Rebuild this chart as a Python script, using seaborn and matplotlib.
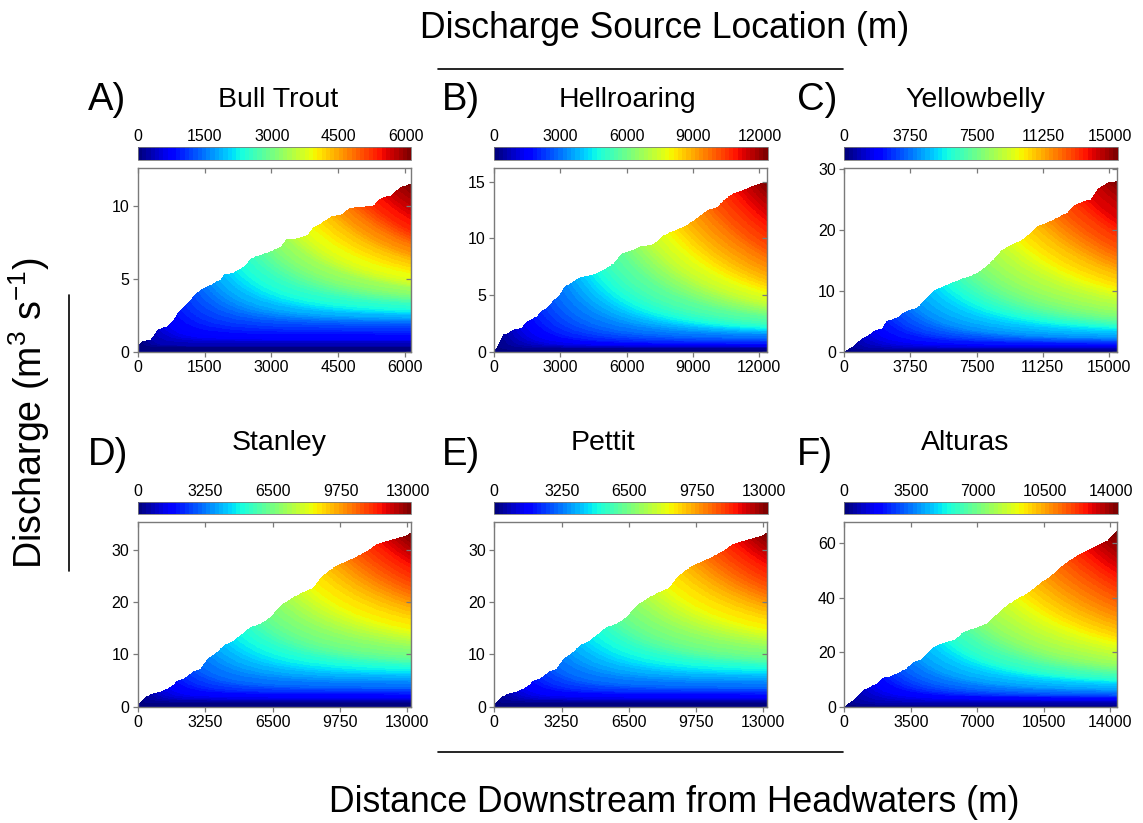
import numpy as np
import matplotlib
matplotlib.use("Agg")
import matplotlib.pyplot as plt
from matplotlib.colors import ListedColormap
from matplotlib.lines import Line2D
import seaborn as sns

# ---------------- data ----------------
panel_letters = ["A)", "B)", "C)", "D)", "E)", "F)"]
stream_names = ["Bull Trout", "Hellroaring", "Yellowbelly", "Stanley", "Pettit", "Alturas"]

bull_dist = [0, 90, 280, 430, 650, 770, 880, 1030, 1180, 1290, 1480, 1630, 1850, 1930, 2150,
             2380, 2530, 2750, 2980, 3200, 3320, 3580, 3800, 3920, 4100, 4330, 4550, 4740,
             5000, 5300, 5420, 5680, 5900, 6125]
bull_q = [0.39, 0.73, 0.84, 1.5, 1.75, 2.1, 2.67, 3.1, 3.6, 4.0, 4.4, 4.6, 4.95, 5.3, 5.45,
          5.85, 6.4, 6.65, 6.9, 7.2, 7.7, 7.8, 8.0, 8.5, 8.8, 9.3, 9.4, 9.85,
          9.95, 10.05, 10.5, 10.75, 11.3, 11.55]

hell_dist = [0, 106, 258, 409, 636, 864, 1242, 1394, 1621, 1924, 2151, 2379, 2606, 2909, 3212,
             3515, 3894, 4500, 4954, 5409, 5787, 6318, 6621, 7227, 7681, 8287, 8742, 9196,
             9650, 10105, 10408, 10863, 11317, 11771, 12350]
hell_q = [0.0, 0.35, 0.94, 1.5, 1.67, 1.96, 2.1, 2.55, 2.84, 3.1, 3.6, 3.9, 4.37, 4.9, 5.8,
          6.1, 6.6, 6.8, 7.24, 7.8, 8.7, 9.0, 9.3, 9.5, 10.3, 10.8, 11.2, 11.8,
          12.5, 12.76, 13.4, 14.0, 14.3, 14.7, 15.0]

yell_dist = [0, 227, 511, 795, 1080, 1458, 1742, 2121, 2405, 2974, 3352, 3731, 4110, 4678,
             5057, 5436, 6004, 6572, 7140, 7709, 8087, 8466, 8845, 9413, 9981, 10550, 10929,
             11497, 12065, 12633, 13012, 13580, 13958, 14337, 14906, 15430]
yell_q = [0.1, 0.38, 0.93, 1.75, 2.3, 2.85, 3.55, 3.78, 5.0, 5.6, 6.4, 6.95, 7.2, 8.87,
          10.0, 10.5, 11.2, 11.9, 12.4, 13.25, 14.1, 15.2, 16.5, 17.5, 18.2, 19.5, 20.6,
          21.2, 22.0, 22.8, 24.0, 24.7, 25.0, 26.7, 27.7, 28.0]

stan_dist = [0, 193, 354, 596, 1079, 1401, 1642, 1884, 2206, 2608, 3011, 3333, 3816, 4138,
             4621, 4943, 5426, 5909, 6392, 6875, 7358, 7841, 8485, 8807, 9129, 9451, 9934,
             10417, 11061, 11544, 12027, 12671, 12912, 13150]
stan_q = [0.3, 1.27, 1.9, 2.4, 2.9, 3.5, 4.1, 5.0, 5.4, 6.7, 7.3, 9.2, 10.5, 11.8,
          12.7, 13.7, 15.3, 15.9, 17.2, 19.4, 20.7, 21.7, 22.9, 24.8, 25.8, 26.75, 27.7,
          28.5, 29.9, 31.2, 31.8, 32.5, 32.8, 33.4]

pett_dist = [0, 193, 354, 596, 1079, 1401, 1642, 1884, 2206, 2608, 3011, 3333, 3816, 4138,
             4621, 4943, 5426, 5909, 6392, 6875, 7358, 7841, 8485, 8807, 9129, 9451, 9934,
             10417, 11061, 11544, 12027, 12671, 12912, 13150]
pett_q = [0.3, 1.27, 1.9, 2.4, 2.9, 3.5, 4.1, 5.0, 5.4, 6.7, 7.3, 9.2, 10.5, 11.8,
          12.7, 13.7, 15.3, 15.9, 17.2, 19.4, 20.7, 21.7, 22.9, 24.8, 25.8, 26.75, 27.7,
          28.5, 29.9, 31.2, 31.8, 32.5, 32.8, 33.4]

altu_dist = [0, 211, 474, 738, 1001, 1353, 1704, 1968, 2407, 2934, 3286, 3637, 4076, 4340,
             4691, 5218, 5745, 6272, 6799, 7502, 8029, 8557, 9084, 9611, 10138, 10665, 11192,
             11719, 12246, 12773, 13300, 13828, 14320]
altu_q = [0.0, 1.2, 2.4, 4.3, 6.1, 7.3, 8.6, 10.4, 11.2, 12.8, 14.1, 16.5, 17.4, 19.6,
          22.0, 23.5, 24.4, 27.5, 28.7, 30.6, 34.2, 37.3, 39.7, 41.6, 44.6, 47.1, 50.1,
          53.2, 55.6, 57.5, 59.3, 61.1, 64.8]

# share of a source's water that persists downstream, and how fast the rest is
# exchanged with distance (exponent on source / downstream distance ratio)
persistent_share = [0.45, 0.22, 0.25, 0.48, 0.48, 0.30]
exchange_exponent = [2.5, 2.3, 2.0, 2.5, 2.5, 2.0]

x_ticks = [[0, 1500, 3000, 4500, 6000],
           [0, 3000, 6000, 9000, 12000],
           [0, 3750, 7500, 11250, 15000],
           [0, 3250, 6500, 9750, 13000],
           [0, 3250, 6500, 9750, 13000],
           [0, 3500, 7000, 10500, 14000]]
y_ticks = [[0, 5, 10], [0, 5, 10, 15], [0, 10, 20, 30],
           [0, 10, 20, 30], [0, 10, 20, 30], [0, 20, 40, 60]]
y_top = [12.6, 16.2, 30.1, 35.35, 35.35, 67.8]

dists = [bull_dist, hell_dist, yell_dist, stan_dist, pett_dist, altu_dist]
flows = [bull_q, hell_q, yell_q, stan_q, pett_q, altu_q]

# ---------------- style ----------------
sns.set_theme(style="ticks")
plt.rcParams["font.family"] = ["Liberation Sans", "DejaVu Sans"]
plt.rcParams["mathtext.fontset"] = "custom"
plt.rcParams["mathtext.rm"] = "Liberation Sans"
plt.rcParams["mathtext.it"] = "Liberation Sans:italic"
plt.rcParams["mathtext.bf"] = "Liberation Sans:bold"
plt.rcParams["text.color"] = "black"

jet64 = ListedColormap(matplotlib.colormaps["jet"].resampled(64)(np.arange(64)))
jet64.set_bad((1, 1, 1, 0))

W, H = 1143, 823
fig = plt.figure(figsize=(W / 100, H / 100), dpi=100)


def fx(px):
    return px / W


def fy(py):
    return 1 - py / H


def source_field(dist, q, share, expo, ymax, nx=560, ny=420):
    xmax = dist[-1]
    xs = np.linspace(0, xmax, nx)
    qs = np.interp(xs, dist, q)
    ys = np.linspace(0, ymax, ny)
    field = np.full((ny, nx), np.nan)
    for i in range(nx):
        src = xs[: i + 1]
        ratio = src / xs[i] if xs[i] > 0 else np.ones_like(src)
        h = qs[: i + 1] * (share + (1 - share) * ratio ** expo)
        h = np.maximum.accumulate(h)
        field[:, i] = np.interp(ys, h, src, left=0.0, right=np.nan)
    return field


axes_left = [137.7, 494.3, 844.3]
axes_right = [410.5, 766.5, 1116.5]
row_axes_top = [168.0, 521.7]
row_axes_bot = [352.0, 706.7]
row_cb_top = [147.0, 501.7]
row_cb_bot = [160.0, 514.3]
title_cx = [[278, 627, 975], [279, 603, 965]]
title_base = [107, 450]
letter_x = [88, 442, 797]
letter_base = [110, 465]

spine_gray = "#7a7a7a"
tick_fs = 11.5

for idx in range(6):
    r, c = divmod(idx, 3)
    xmax = dists[idx][-1]
    ymax = y_top[idx]
    L, R = axes_left[c], axes_right[c]
    ax = fig.add_axes([fx(L), fy(row_axes_bot[r]), fx(R - L), (row_axes_bot[r] - row_axes_top[r]) / H])
    field = source_field(dists[idx], flows[idx], persistent_share[idx], exchange_exponent[idx], ymax)
    im = ax.imshow(field, origin="lower", extent=[0, xmax, 0, ymax], aspect="auto",
                   cmap=jet64, vmin=0, vmax=xmax, interpolation="nearest")
    ax.set_xlim(0, xmax)
    ax.set_ylim(0, ymax)
    ax.set_xticks(x_ticks[idx])
    ax.set_yticks(y_ticks[idx])
    for sp in ax.spines.values():
        sp.set_visible(True)
        sp.set_color(spine_gray)
        sp.set_linewidth(1.0)
    ax.tick_params(axis="both", direction="out", length=3.5, width=0.9, color=spine_gray,
                   labelsize=tick_fs, labelcolor="black", pad=2.5)
    sec_x = ax.secondary_xaxis("top")
    sec_x.set_xticks(x_ticks[idx])
    sec_x.tick_params(direction="in", length=3.5, width=0.9, color=spine_gray, labeltop=False)
    sec_x.spines["top"].set_visible(False)
    sec_y = ax.secondary_yaxis("right")
    sec_y.set_yticks(y_ticks[idx])
    sec_y.tick_params(direction="in", length=3.5, width=0.9, color=spine_gray, labelright=False)
    sec_y.spines["right"].set_visible(False)

    cax = fig.add_axes([fx(L), fy(row_cb_bot[r]), fx(R - L + 1), (row_cb_bot[r] - row_cb_top[r]) / H])
    cb = fig.colorbar(im, cax=cax, orientation="horizontal", ticks=x_ticks[idx])
    cax.xaxis.set_ticks_position("top")
    cax.tick_params(length=0, pad=2, labelsize=tick_fs, labelcolor="black")
    cb.outline.set_edgecolor(spine_gray)
    cb.outline.set_linewidth(0.6)

    fig.text(fx(title_cx[r][c]), fy(title_base[r]), stream_names[idx], ha="center", va="baseline",
             fontsize=20.5)
    fig.text(fx(letter_x[c]), fy(letter_base[r]), panel_letters[idx], ha="left", va="baseline",
             fontsize=27.5)

fig.text(fx(665), fy(38), "Discharge Source Location (m)", ha="center", va="baseline", fontsize=25.6)
fig.text(fx(674), fy(812), "Distance Downstream from Headwaters (m)", ha="center", va="baseline",
         fontsize=25.6)
fig.text(fx(29), fy(413), r"Discharge (m$^3$ s$^{-1}$)", ha="center", va="center",
         rotation=90, fontsize=27)

fig.add_artist(Line2D([fx(438), fx(843)], [fy(69), fy(69)], color="black", lw=1.2,
                      transform=fig.transFigure))
fig.add_artist(Line2D([fx(438), fx(843)], [fy(752), fy(752)], color="black", lw=1.2,
                      transform=fig.transFigure))
fig.add_artist(Line2D([fx(69), fx(69)], [fy(295), fy(571)], color="black", lw=1.2,
                      transform=fig.transFigure))

fig.savefig("out.png", dpi=100, facecolor="white")
